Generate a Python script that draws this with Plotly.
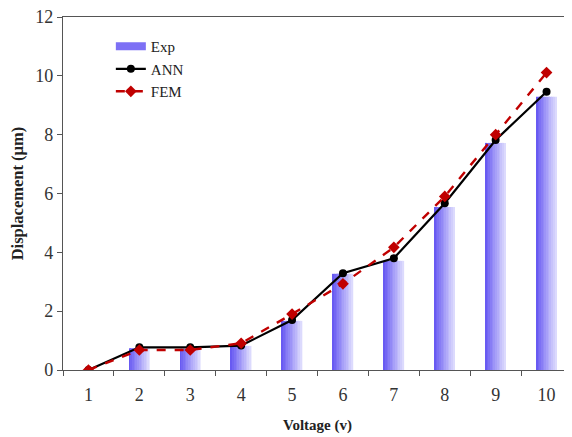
import plotly.graph_objects as go

voltage = ["1", "2", "3", "4", "5", "6", "7", "8", "9", "10"]
exp_vals = [0.0, 0.74, 0.72, 0.82, 1.67, 3.27, 3.71, 5.54, 7.72, 9.29]
ann_vals = [0.0, 0.77, 0.77, 0.83, 1.70, 3.29, 3.80, 5.67, 7.82, 9.46]
fem_vals = [0.0, 0.68, 0.68, 0.91, 1.90, 2.93, 4.17, 5.90, 8.00, 10.11]
y_ticks = [0, 2, 4, 6, 8, 10, 12]

fig = go.Figure()

# gradient bars built from thin overlaid slices
n = 12
bar_w = 0.4
c0 = (104, 90, 242)
c1 = (220, 218, 253)
for i in range(n):
    t = i / (n - 1)
    col = "rgb(%d,%d,%d)" % tuple(int(round(a + (b - a) * t)) for a, b in zip(c0, c1))
    fig.add_trace(go.Bar(
        x=voltage, y=exp_vals, width=bar_w / n + 0.002, offset=-bar_w / 2 + i * bar_w / n,
        marker=dict(color=col, line=dict(width=0)),
        name="Exp", showlegend=False, legendgroup="exp",
    ))
# legend entry for Exp (wide rectangle swatch)
fig.add_trace(go.Scatter(x=[None], y=[None], name="Exp", mode="lines",
                         line=dict(color="rgb(125,112,245)", width=8), legendgroup="exp"))

fig.add_trace(go.Scatter(
    x=voltage, y=ann_vals, name="ANN", mode="lines+markers",
    line=dict(color="black", width=2.2),
    marker=dict(symbol="circle", size=8, color="black"),
))
fig.add_trace(go.Scatter(
    x=voltage, y=fem_vals, name="FEM", mode="lines+markers",
    line=dict(color="#c00000", width=2.4, dash="dash"),
    marker=dict(symbol="diamond", size=9, color="#c00000"),
))

font_family = "Liberation Serif, Times New Roman, serif"

fig.update_layout(
    width=564, height=429,
    margin=dict(l=55, r=0, t=9, b=67),
    paper_bgcolor="white", plot_bgcolor="white",
    barmode="overlay",
    font=dict(family=font_family, size=15, color="#333333"),
    legend=dict(x=0.094, y=0.963, xanchor="left", yanchor="top",
                bgcolor="rgba(0,0,0,0)", font=dict(size=15, color="#222222"),
                tracegroupgap=0, itemwidth=30),
    showlegend=True,
)
fig.update_xaxes(
    type="category", range=[-0.5, 9.5],
    showline=True, linecolor="#555555", linewidth=1.2, mirror=True,
    ticks="outside", tickson="boundaries", ticklen=5, tickcolor="#555555",
    ticklabelstandoff=8,
    showgrid=False, zeroline=False,
    title=dict(text="<b>Voltage (v)</b>", font=dict(size=15, color="#222222"), standoff=15),
    tickfont=dict(size=18, color="#333333"),
)
fig.update_yaxes(
    range=[0, 12], tickvals=y_ticks,
    showline=True, linecolor="#555555", linewidth=1.2,
    ticks="outside", ticklen=5, tickcolor="#555555",
    ticklabeloverflow="allow",
    showgrid=False, zeroline=False,
    title=dict(text="<b>Displacement (µm)</b>", font=dict(size=16.5, color="#222222"), standoff=10),
    tickfont=dict(size=18, color="#333333"),
)

fig.write_html("out.html")
